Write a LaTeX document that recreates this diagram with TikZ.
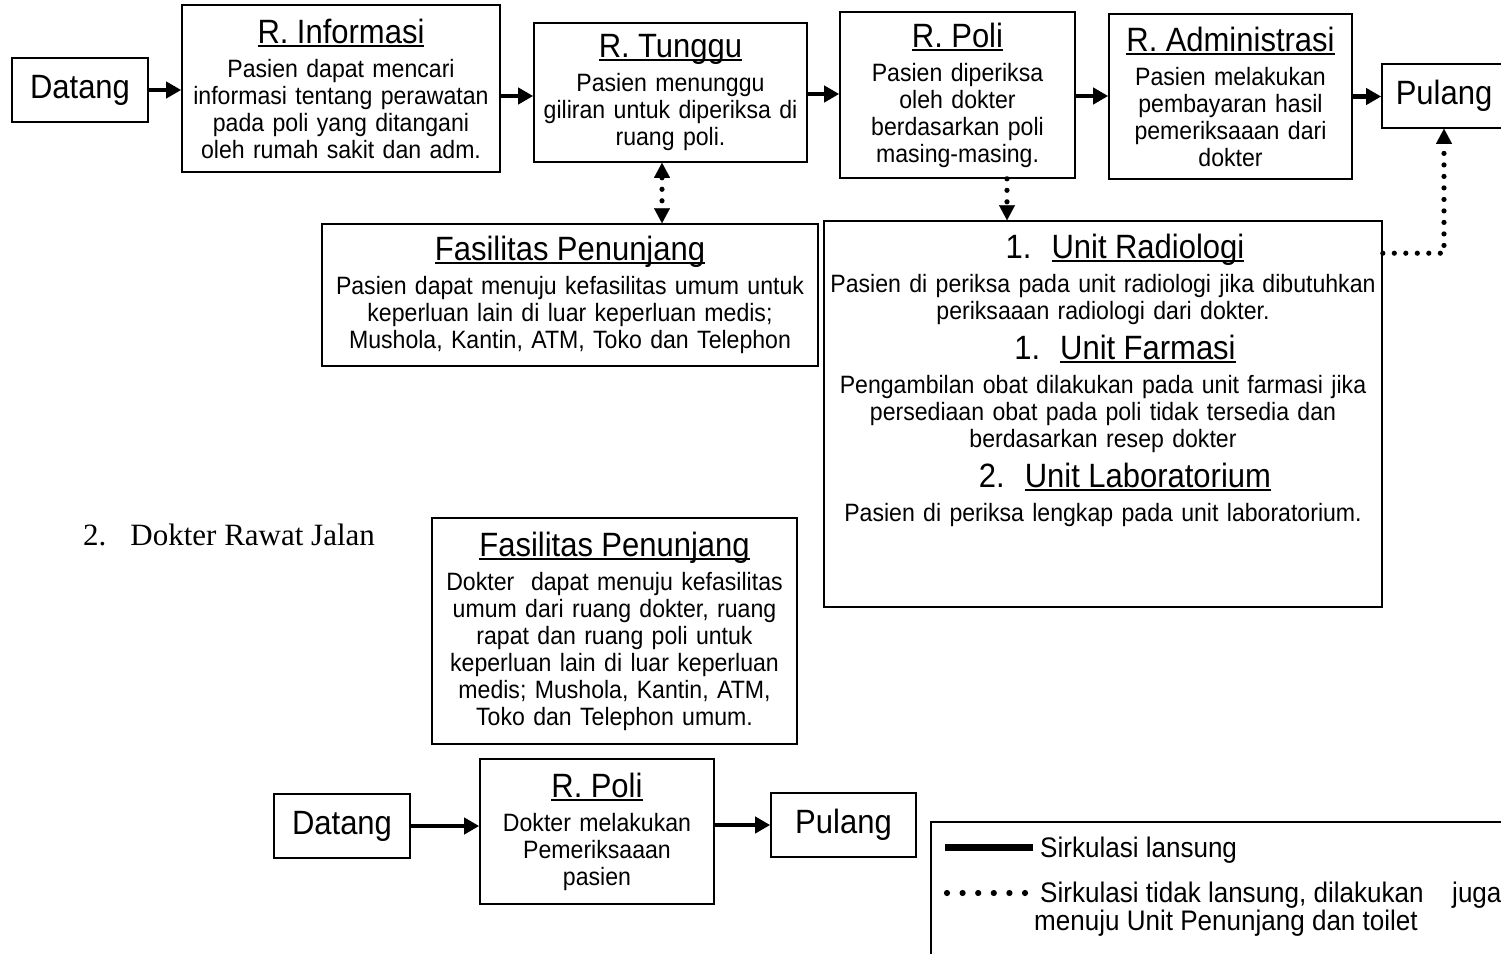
\documentclass[tikz,border=0pt]{standalone}
\usepackage{fontspec}
\setmainfont{Liberation Sans}[FakeStretch=0.92]
\newfontfamily\timesfam{Liberation Serif}
\usetikzlibrary{arrows.meta}
\newcommand\myul[1]{\leavevmode\setbox0\hbox{#1}\rlap{\rule[-3.5pt]{\wd0}{1.8pt}}\box0}
\newcommand\ttlx[1]{{\fontsize{33.7}{40}\selectfont #1\par}\vspace{7pt}}
\newcommand\ttl[1]{\ttlx{\myul{#1}}}
\tikzset{
  box/.style={draw, line width=1.6pt, inner sep=0pt, align=center, font=\fontsize{25.1}{27}\selectfont},
  bigt/.style={font=\fontsize{33.7}{40}\selectfont},
  legt/.style={font=\fontsize{28.3}{32}\selectfont, inner sep=0pt, anchor=base west},
  arr/.style={line width=4.8pt, -{Triangle[length=15pt,width=16pt]}},
  dotl/.style={line width=5.2pt, line cap=round, dash pattern=on 0pt off 11.5pt},
  dtip/.style={-{Triangle[length=15pt,width=16pt,line width=0.1pt]}},
  dtipboth/.style={{Triangle[length=15pt,width=16pt,line width=0.1pt]}-{Triangle[length=15pt,width=16pt,line width=0.1pt]}}
}
\begin{document}
\begin{tikzpicture}[x=1pt,y=-1pt]
\useasboundingbox (0,0) rectangle (1501,953);
% top row
\node[box, bigt, minimum width=136pt, minimum height=64pt] (dat1) at (80,90) {Datang};
\node[box, minimum width=318pt, minimum height=167pt, text width=314pt] (info) at (341,88.5)
  {\ttl{R. Informasi}Pasien dapat mencari\\informasi tentang perawatan\\pada poli yang ditangani\\oleh rumah sakit dan adm.};
\node[box, minimum width=273pt, minimum height=139pt, text width=268pt] (tunggu) at (670.5,92.5)
  {\ttl{R. Tunggu}Pasien menunggu\\giliran untuk diperiksa di\\ruang poli.};
\node[box, minimum width=235pt, minimum height=166pt, text width=230pt] (poli) at (957.5,95)
  {\ttl{R. Poli}Pasien diperiksa\\oleh dokter\\berdasarkan poli\\masing-masing.};
\node[box, minimum width=243pt, minimum height=165pt, text width=238pt] (admin) at (1230.5,96.5)
  {\ttl{R. Administrasi}Pasien melakukan\\pembayaran hasil\\pemeriksaaan dari\\dokter};
\node[box, bigt, minimum width=124pt, minimum height=64pt] (pul1) at (1444,96) {Pulang};
% second row
\node[box, minimum width=496pt, minimum height=142pt, text width=490pt] (fas1) at (570,295)
  {\ttl{Fasilitas Penunjang}Pasien dapat menuju kefasilitas umum untuk\\keperluan lain di luar keperluan medis;\\Mushola, Kantin, ATM, Toko dan Telephon};
\node[box, minimum width=558pt, minimum height=386pt] (units) at (1103,414) {};
\node[anchor=north, inner sep=0pt, text width=556pt, align=center, font=\fontsize{25.1}{27}\selectfont] (unitstext) at (1103,234)
  {\ttlx{\hspace*{44pt}1.\hspace{20pt}\myul{Unit Radiologi}}Pasien di periksa pada unit radiologi jika dibutuhkan\\periksaaan radiologi dari dokter.\par
   \ttlx{\hspace*{44pt}1.\hspace{20pt}\myul{Unit Farmasi}}Pengambilan obat dilakukan pada unit farmasi jika\\persediaan obat pada poli tidak tersedia dan\\berdasarkan resep dokter\par
   \ttlx{\hspace*{44pt}2.\hspace{20pt}\myul{Unit Laboratorium}}Pasien di periksa lengkap pada unit laboratorium.};
% section 2
\node[anchor=base west, inner sep=0pt, font=\timesfam\fontsize{31}{36}\selectfont] (dokter) at (83,545) {2.\hspace{24pt}Dokter Rawat Jalan};
\node[box, minimum width=365pt, minimum height=226pt, text width=360pt] (fas2) at (614.5,631)
  {\ttl{Fasilitas Penunjang}Dokter\ \ dapat menuju kefasilitas\\umum dari ruang dokter, ruang\\rapat dan ruang poli untuk\\keperluan lain di luar keperluan\\medis; Mushola, Kantin, ATM,\\Toko dan Telephon umum.};
\node[box, bigt, minimum width=136pt, minimum height=64pt] (dat2) at (342,826) {Datang};
\node[box, minimum width=234pt, minimum height=145pt, text width=230pt] (poli2) at (597,831.5)
  {\ttl{R. Poli}Dokter melakukan\\Pemeriksaaan\\pasien};
\node[box, bigt, minimum width=145pt, minimum height=64pt] (pul2) at (843.5,825) {Pulang};
% legend
\node[draw, line width=1.6pt, inner sep=0pt, minimum width=600pt, minimum height=160pt] (legend) at (1231,902) {};
\draw[line width=7pt] (945,847) -- (1033,847);
\foreach \i in {0,...,5} \fill (947+15.6*\i,893) circle (3.1pt);
\node[legt] (l1) at (1040,857) {Sirkulasi lansung};
\node[legt] (l2) at (1040,902) {Sirkulasi tidak lansung, dilakukan};
\node[legt] (l3) at (1452,902) {juga};
\node[legt] (l4) at (1034,930) {menuju Unit Penunjang dan toilet};
% solid arrows
\draw[arr] (dat1.east) -- (dat1.east -| info.west);
\coordinate (a1) at ([yshift=-7.5pt]info.east);
\draw[arr] (a1) -- (a1 -| tunggu.west);
\coordinate (a2) at ([yshift=-1.5pt]tunggu.east);
\draw[arr] (a2) -- (a2 -| poli.west);
\coordinate (a3) at ([yshift=-1pt]poli.east);
\draw[arr] (a3) -- (a3 -| admin.west);
\draw[arr] (admin.east) -- (admin.east -| pul1.west);
\draw[arr] (dat2.east) -- (dat2.east -| poli2.west);
\coordinate (a4) at ([yshift=6.5pt]poli2.east);
\draw[arr] (a4) -- (a4 -| pul2.west);
% dotted arrows
\coordinate (d1) at ([xshift=-8.5pt]tunggu.south);
\draw[dotl, dtipboth] (d1) -- (d1 |- fas1.north);
\coordinate (d2) at ([xshift=49.5pt]poli.south);
\draw[dotl, dtip] (d2) -- (d2 |- units.north);
\coordinate (d3) at ([yshift=-33pt]units.north east);
\draw[dotl, dtip] (d3) -| (pul1.south);
\end{tikzpicture}
\end{document}
